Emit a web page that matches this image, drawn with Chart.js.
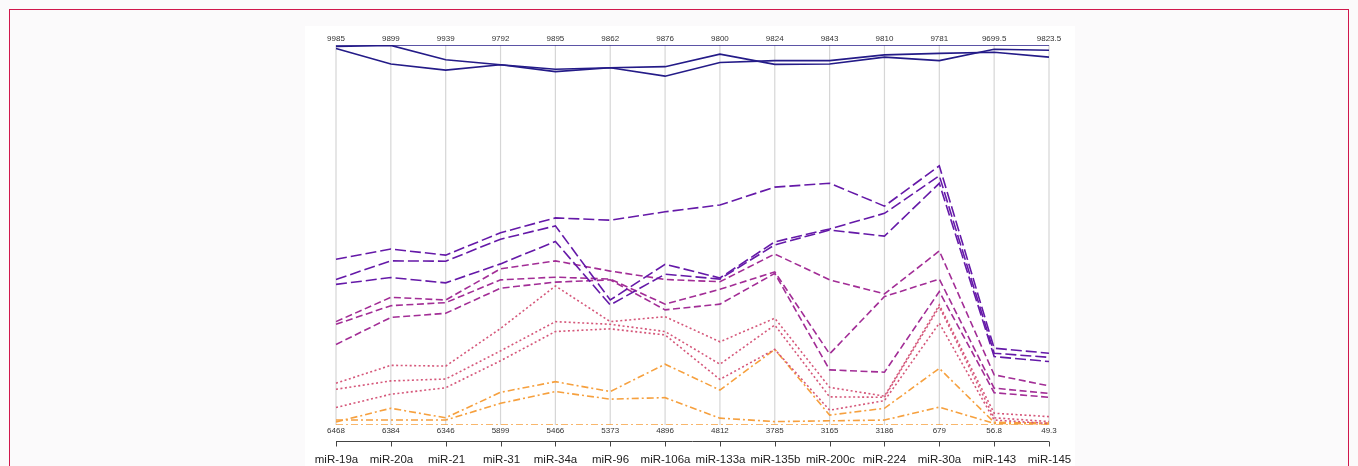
<!DOCTYPE html>
<html>
<head>
<meta charset="utf-8">
<script src="https://cdn.jsdelivr.net/npm/chart.js@4"></script>
<style>
  body { margin: 0; background: #fbfafb; font-family: "Liberation Sans", Arial, sans-serif; }
  #frame { position: absolute; left: 9px; top: 9px; width: 1338px; height: 480px; border: 1.5px solid #d0174b; }
  #panel { position: absolute; left: 305px; top: 26px; width: 770px; height: 450px; background: #fff; }
  #grafico { position: absolute; left: 0; top: 0; }
</style>
</head>
<body>
<div id="frame"></div>
<div id="panel"></div>
<canvas id="grafico" width="1358" height="466"></canvas>
<script>
// nomes dos eixos (um por miRNA) e os valores max/min escritos em cada eixo
const eixos = ['miR-19a', 'miR-20a', 'miR-21', 'miR-31', 'miR-34a', 'miR-96', 'miR-106a',
  'miR-133a', 'miR-135b', 'miR-200c', 'miR-224', 'miR-30a', 'miR-143', 'miR-145'];
const maximos = ['9985', '9899', '9939', '9792', '9895', '9862', '9876', '9800', '9824', '9843', '9810', '9781', '9699.5', '9823.5'];
const minimos = ['6468', '6384', '6346', '5899', '5466', '5373', '4896', '4812', '3785', '3165', '3186', '679', '56.8', '49.3'];

// cada linha em % da altura do eixo (0 = min, 100 = max)
const solida1 = [100, 100, 100, 100, 100, 100, 100, 100, 100, 100, 100, 100, 100, 100];
const solida2 = [99.6, 99.9, 96.1, 94.8, 93.6, 94.0, 94.3, 97.6, 94.9, 95.0, 96.8, 95.9, 98.9, 98.6];
const solida3 = [99.1, 95.0, 93.4, 94.8, 93.0, 94.0, 91.8, 95.4, 95.9, 95.9, 97.4, 97.8, 98.1, 96.8];

const longa1 = [43.6, 46.3, 44.7, 50.6, 54.5, 53.9, 56.1, 57.9, 62.6, 63.6, 57.6, 68.2, 20.2, 18.9];
const longa2 = [38.3, 43.2, 43.1, 48.9, 52.4, 32.9, 42.3, 38.7, 48.2, 51.6, 55.7, 65.6, 18.9, 17.8];
const longa3 = [37.0, 38.8, 37.4, 42.4, 48.3, 31.6, 39.7, 38.4, 47.4, 51.3, 49.7, 63.6, 18.0, 16.7];

const traco1 = [27.2, 33.6, 32.9, 41.1, 43.2, 40.5, 38.3, 37.7, 45.0, 38.2, 34.5, 45.8, 13.2, 10.3];
const traco2 = [26.5, 31.4, 32.2, 38.2, 38.9, 38.4, 31.8, 35.7, 40.3, 18.7, 33.8, 38.4, 9.7, 8.3];
const traco3 = [21.2, 28.3, 29.4, 36.0, 37.6, 38.2, 30.3, 31.8, 39.9, 14.5, 13.9, 35.1, 8.5, 7.3];

const ponto1 = [11.0, 15.7, 15.5, 25.4, 36.6, 27.2, 28.5, 21.9, 28.1, 9.9, 7.6, 31.6, 3.1, 2.2];
const ponto2 = [9.4, 11.6, 12.1, 19.5, 27.2, 26.5, 24.6, 16.0, 26.3, 7.4, 7.3, 31.1, 1.9, 0.9];
const ponto3 = [4.6, 8.1, 9.8, 16.9, 24.6, 25.3, 23.7, 12.0, 19.9, 3.9, 6.4, 26.8, 1.3, 0.4];

const tracoPonto1 = [0.8, 4.4, 1.9, 8.6, 11.4, 8.8, 16.0, 9.2, 19.9, 2.6, 4.4, 14.9, 0.7, 0.5];
const tracoPonto2 = [1.3, 1.3, 1.3, 5.7, 8.8, 6.8, 7.2, 1.8, 0.9, 1.1, 1.3, 4.7, 0.4, 0.3];
const tracoPonto3 = [0, 0, 0, 0, 0, 0, 0, 0, 0, 0, 0, 0, 0, 0];

// estilo de cada grupo (cor + tracejado)
const grupos = [
  { cor: '#241b88', dash: [], linhas: [solida1, solida2, solida3] },
  { cor: '#6519a8', dash: [11, 4], linhas: [longa1, longa2, longa3] },
  { cor: '#a22d96', dash: [7, 3.5], linhas: [traco1, traco2, traco3] },
  { cor: '#d5577a', dash: [2, 2.5], linhas: [ponto1, ponto2, ponto3] },
  { cor: '#f6a03e', dash: [7, 3, 2, 3], linhas: [tracoPonto1, tracoPonto2, tracoPonto3] }
];

const datasets = [];
grupos.forEach(g => {
  g.linhas.forEach(l => {
    datasets.push({
      data: l,
      borderColor: g.cor,
      borderDash: g.dash,
      borderWidth: 1.6,
      pointRadius: 0,
      tension: 0,
      fill: false
    });
  });
});

// desenha os eixos verticais, os valores de cima/baixo e o eixo com os nomes
const eixosPlugin = {
  id: 'eixosParalelos',
  beforeDatasetsDraw(chart) {
    const { ctx, chartArea, scales } = chart;
    ctx.save();
    ctx.strokeStyle = '#d6d6d6';
    ctx.lineWidth = 1.2;
    eixos.forEach((e, i) => {
      const x = scales.x.getPixelForValue(i);
      ctx.beginPath();
      ctx.moveTo(x, chartArea.top);
      ctx.lineTo(x, chartArea.bottom);
      ctx.stroke();
    });
    ctx.restore();
  },
  afterDraw(chart) {
    const { ctx, chartArea, scales } = chart;
    ctx.save();
    ctx.fillStyle = '#333';
    ctx.font = '8px "Liberation Sans", Arial, sans-serif';
    ctx.textAlign = 'center';
    ctx.textBaseline = 'middle';
    eixos.forEach((e, i) => {
      const x = scales.x.getPixelForValue(i);
      ctx.fillText(maximos[i], x, chartArea.top - 6.5);
      ctx.fillText(minimos[i], x, chartArea.bottom + 6);
    });
    // eixo de baixo
    const yEixo = chartArea.bottom + 16.5;
    ctx.strokeStyle = '#444';
    ctx.lineWidth = 1;
    ctx.beginPath();
    ctx.moveTo(scales.x.getPixelForValue(0), yEixo);
    ctx.lineTo(scales.x.getPixelForValue(eixos.length - 1), yEixo);
    ctx.stroke();
    ctx.fillStyle = '#222';
    ctx.font = '11.5px "Liberation Sans", Arial, sans-serif';
    eixos.forEach((e, i) => {
      const x = Math.round(scales.x.getPixelForValue(i)) + 0.5;
      ctx.beginPath();
      ctx.moveTo(x, yEixo);
      ctx.lineTo(x, yEixo + 5);
      ctx.stroke();
      ctx.fillText(e, x, yEixo + 18);
    });
    ctx.restore();
  }
};

const ctx = document.getElementById('grafico').getContext('2d');
new Chart(ctx, {
  type: 'line',
  data: { labels: eixos, datasets: datasets },
  options: {
    responsive: false,
    animation: false,
    layout: { padding: { left: 336, right: 309, top: 45, bottom: 41 } },
    plugins: { legend: { display: false }, tooltip: { enabled: false } },
    scales: {
      x: { display: false, offset: false },
      y: { display: false, min: 0, max: 100 }
    }
  },
  plugins: [eixosPlugin]
});
</script>
</body>
</html>
